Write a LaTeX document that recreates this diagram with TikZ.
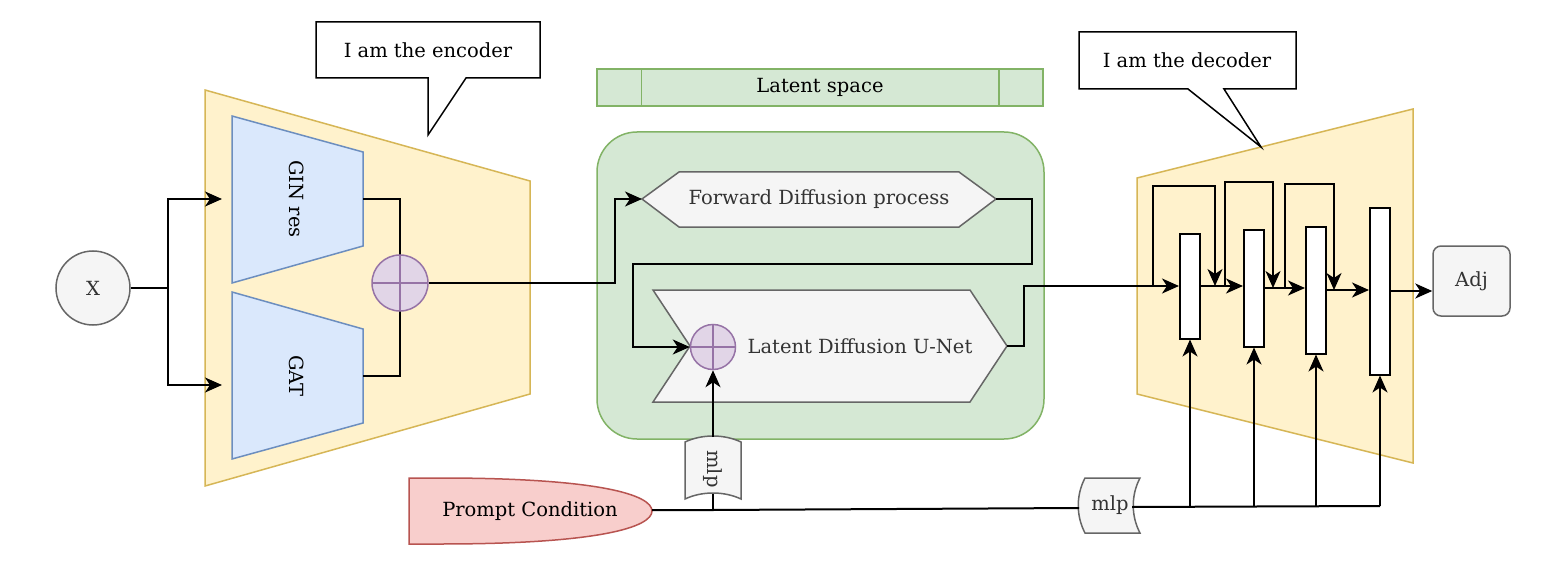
\documentclass[tikz,border=0pt]{standalone}
\usepackage{fontspec}
\setmainfont{DejaVu Serif}
\usetikzlibrary{arrows.meta}

\definecolor{yellowFill}{HTML}{FFF2CC}
\definecolor{yellowLine}{HTML}{D6B656}
\definecolor{blueFill}{HTML}{DAE8FC}
\definecolor{blueLine}{HTML}{6C8EBF}
\definecolor{greenFill}{HTML}{D5E8D4}
\definecolor{greenLine}{HTML}{82B366}
\definecolor{greyFill}{HTML}{F5F5F5}
\definecolor{greyLine}{HTML}{666666}
\definecolor{greyText}{HTML}{333333}
\definecolor{purpleFill}{HTML}{E1D5E7}
\definecolor{purpleLine}{HTML}{9673A6}
\definecolor{redFill}{HTML}{F8CECC}
\definecolor{redLine}{HTML}{B85450}

\begin{document}
\begin{tikzpicture}[x=1pt, y=-1pt, font=\fontsize{19.5}{23}\selectfont,
    conn/.style={line width=2pt},
    arr/.style={conn, -{Stealth[length=17pt, width=15pt, inset=5pt]}},
    yellowpart/.style={fill=yellowFill, draw=yellowLine, line width=1.5pt},
    bluepart/.style={fill=blueFill, draw=blueLine, line width=1.5pt},
    greenpart/.style={fill=greenFill, draw=greenLine, line width=1.5pt},
    greypart/.style={fill=greyFill, draw=greyLine, line width=1.5pt, text=greyText},
    redpart/.style={fill=redFill, draw=redLine, line width=1.5pt},
    sumnode/.style={circle, fill=purpleFill, draw=purpleLine, line width=1.5pt, inner sep=0pt,
        path picture={\draw[line width=2pt] (path picture bounding box.north) -- (path picture bounding box.south)
            (path picture bounding box.west) -- (path picture bounding box.east);}},
    blocknode/.style={draw, fill=white, line width=2pt, minimum width=20pt, inner sep=0pt},
    callout/.style={draw, fill=white, line width=1.5pt}]

    \fill[white] (0,0) rectangle (1567,567);
    \useasboundingbox (0,0) rectangle (1567,567);

    % Input
    \node[circle, greypart, minimum size=74pt, inner sep=0pt] (X) at (93,288) {X};
    \coordinate (Fork) at (168,288);

    % Encoder
    \draw[yellowpart] (205,90) -- (530,181) -- (530,394) -- (205,486) -- cycle;
    \draw[bluepart] (232,116) -- (363,152) -- (363,246) -- (232,283) -- cycle;
    \draw[bluepart] (232,292) -- (363,329) -- (363,423) -- (232,459) -- cycle;
    \node[rotate=-90] (GinRes) at (297,199) {GIN res};
    \node[rotate=-90] (Gat) at (297,376) {GAT};
    \coordinate (GinIn) at (222,199);
    \coordinate (GatIn) at (222,385);
    \coordinate (GinOut) at (363,199);
    \coordinate (GatOut) at (363,376);
    \draw[conn] (GinOut) -| (400,283);
    \draw[conn] (GatOut) -| (400,283);
    \node[sumnode, minimum size=56pt] (SumEnc) at (400,283) {};

    \draw[callout] (316,22) -- (540,22) -- (540,78) -- (466,78) -- (428,135) -- (428,78) -- (316,78) -- cycle;
    \node (EncNote) at (428,50) {I am the encoder};

    % Latent space
    \node[greenpart, minimum width=446pt, minimum height=37pt, inner sep=0pt] (LatentSpace) at (820,87.5) {Latent space};
    \draw[draw=greenLine, line width=1.5pt] ([xshift=45pt]LatentSpace.north west) -- ([xshift=45pt]LatentSpace.south west);
    \draw[draw=greenLine, line width=1.5pt] ([xshift=-45pt]LatentSpace.north east) -- ([xshift=-45pt]LatentSpace.south east);
    \node[greenpart, rounded corners=40pt, minimum width=447pt, minimum height=307pt] (LatentBox) at (820.5,285.5) {};

    \draw[greypart] (642,199) -- (679,172) -- (959,172) -- (996,199) -- (959,227) -- (679,227) -- cycle;
    \node[text=greyText] (FwdDiff) at (819,199.5) {Forward Diffusion process};
    \coordinate (FwdIn) at (642,199);
    \coordinate (FwdOut) at (996,199);

    \draw[greypart] (653,290) -- (970,290) -- (1007,346) -- (970,402) -- (653,402) -- (690,346) -- cycle;
    \node[text=greyText] (Unet) at (860,346) {Latent Diffusion U-Net};
    \node[sumnode, minimum size=45pt] (SumLat) at (713,347) {};
    \coordinate (UnetOut) at (1007,346);

    % Condition
    \draw[redpart] (409,478) -- (440,478) .. controls (600,478) and (652,495) .. (652,511)
        .. controls (652,527) and (600,544) .. (440,544) -- (409,544) -- cycle;
    \node (Prompt) at (530,511) {Prompt Condition};
    \coordinate (PromptOut) at (652,510);
    \coordinate (PromptJoin) at (713,510);

    \draw[greypart] (685,442) .. controls (702,434) and (724,434) .. (741,442) -- (741,499)
        .. controls (724,491) and (702,491) .. (685,499) -- cycle;
    \node[rotate=-90, text=greyText] (MlpLat) at (713,469) {mlp};
    \coordinate (MlpLatTop) at (713,437);
    \coordinate (MlpLatBot) at (713,494);

    \draw[greypart] (1085,478) -- (1140,478) .. controls (1131,495) and (1131,516) .. (1140,533)
        -- (1085,533) .. controls (1076,516) and (1076,495) .. (1085,478) -- cycle;
    \node[text=greyText] (MlpDec) at (1110,505) {mlp};
    \coordinate (MlpDecIn) at (1079,508);
    \coordinate (MlpDecOut) at (1132,507);
    \coordinate (BusEnd) at (1380,506);

    % Decoder
    \draw[yellowpart] (1137,178) -- (1413,109) -- (1413,463) -- (1137,394) -- cycle;
    \node[blocknode, minimum height=105pt] (BlockA) at (1190,286) {};
    \node[blocknode, minimum height=117pt] (BlockB) at (1254,288) {};
    \node[blocknode, minimum height=127pt] (BlockC) at (1316,290) {};
    \node[blocknode, minimum height=167pt] (BlockD) at (1380,291) {};
    \node[greypart, rounded corners=8pt, minimum width=77pt, minimum height=70pt] (Adj) at (1471.5,281) {Adj};

    \coordinate (SkipA) at ([xshift=-26pt]BlockA.west);
    \coordinate (SkipAEnd) at ([xshift=14pt]BlockA.east);
    \coordinate (SkipB) at ([xshift=24pt]BlockA.east);
    \coordinate (SkipBEnd) at ([xshift=8pt]BlockB.east);
    \coordinate (SkipC) at ([xshift=20pt]BlockB.east);
    \coordinate (SkipCEnd) at ([xshift=7pt]BlockC.east);

    \draw[callout] (1079,32) -- (1296,32) -- (1296,89) -- (1224,89) -- (1261,147) -- (1188,89) -- (1079,89) -- cycle;
    \node (DecNote) at (1187,60) {I am the decoder};

    % Arrows
    \draw[conn] (X.east) -- (Fork);
    \draw[arr] (Fork) |- (GinIn);
    \draw[arr] (Fork) |- (GatIn);
    \draw[arr] (SumEnc.east) -- ++(186,0) |- (FwdIn);
    \draw[arr] (FwdOut) -- ++(36,0) |- (633,264) |- (SumLat.west);
    \draw[arr] (UnetOut) -- ++(17,0) |- (BlockA.west);

    \draw[conn] (PromptOut) -- (PromptJoin) -- (MlpDecIn);
    \draw[conn] (PromptJoin) -- (MlpLatBot);
    \draw[arr] (MlpLatTop) -- (SumLat.south);
    \draw[conn] (MlpDecOut) -- (BusEnd);

    \draw[arr] (BlockA.east) -- (BlockA.east -| BlockB.west);
    \draw[arr] (BlockB.east) -- (BlockB.east -| BlockC.west);
    \draw[arr] (BlockC.east) -- (BlockC.east -| BlockD.west);
    \draw[arr] (BlockD.east) -- (BlockD.east -| Adj.west);

    \draw[arr] (SkipA) -- ++(0,-100) -| (SkipAEnd);
    \draw[arr] (SkipB) -- ++(0,-104) -| (SkipBEnd);
    \draw[arr] (SkipC) -- ++(0,-104) -| (SkipCEnd);

    \draw[arr] (BlockA.south |- BusEnd) -- (BlockA.south);
    \draw[arr] (BlockB.south |- BusEnd) -- (BlockB.south);
    \draw[arr] (BlockC.south |- BusEnd) -- (BlockC.south);
    \draw[arr] (BlockD.south |- BusEnd) -- (BlockD.south);
\end{tikzpicture}
\end{document}
